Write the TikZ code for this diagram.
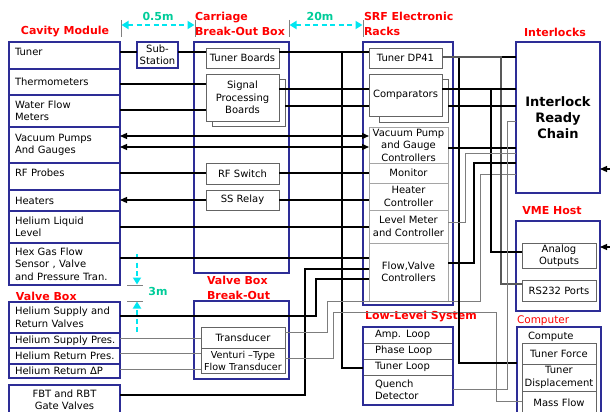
\documentclass[tikz,border=0pt]{standalone}
\usepackage{fontspec}
\setmainfont{DejaVu Sans}
\usetikzlibrary{arrows.meta}
\definecolor{navy}{RGB}{45,45,150}
\definecolor{lblred}{RGB}{255,0,0}
\definecolor{dimtxt}{RGB}{0,204,153}
\definecolor{dimcy}{RGB}{0,230,240}
\definecolor{wiregray}{RGB}{125,125,125}
\definecolor{boxgray}{RGB}{100,100,100}
\definecolor{lightbox}{RGB}{165,165,165}
\hyphenpenalty=10000
\exhyphenpenalty=10000
\begin{document}
\begin{tikzpicture}[x=1pt,y=-1pt,
 font=\fontsize{10}{12.5}\selectfont,
 every node/.style={outer sep=0pt},
 blk/.style={draw=navy, line width=2.2pt, anchor=north west, inner sep=0pt, fill=white},
 cav/.style={blk, minimum width=111pt, align=left, text width=99pt, inner xsep=6pt},
 grp/.style={draw=navy, line width=2.2pt, anchor=north west, inner sep=0pt},
 ibox/.style={draw=boxgray, line width=0.8pt, anchor=north west, inner sep=0pt, fill=white, align=center},
 lbox/.style={draw=lightbox, line width=0.8pt, anchor=north west, inner sep=0pt, fill=white, align=center, minimum width=79pt},
 llc/.style={draw=boxgray, line width=0.8pt, anchor=north west, minimum width=90pt, text width=66pt, inner xsep=12pt, inner ysep=0pt, align=left},
 ttl/.style={text=lblred, font=\fontsize{11}{15}\selectfont\bfseries, inner sep=0pt, align=left},
 dimlbl/.style={text=dimtxt, font=\fontsize{11}{13}\selectfont\bfseries, inner sep=0pt},
 dimarr/.style={dimcy, line width=1.8pt, dash pattern=on 5pt off 3.5pt},
 dtip/.tip={Triangle[length=7pt,width=8pt]},
 wtip/.tip={Triangle[length=7pt,width=6pt]},
 dimtick/.style={draw=gray, line width=0.6pt},
 wthick/.style={line width=1.9pt, black},
 wmed/.style={line width=1.2pt, black},
 wdark/.style={line width=1.2pt, black!65},
 wthin/.style={line width=0.9pt, wiregray},
]
\useasboundingbox (0,0) rectangle (610,412);

% ---------- group boxes ----------
\node[grp, minimum width=95pt, minimum height=231pt] (carr) at (194,42) {};
\node[grp, minimum width=90pt, minimum height=263pt] (srf) at (363,42) {};
\node[grp, minimum width=84pt, minimum height=90pt] (vme) at (516,221) {};
\node[grp, minimum width=84pt, minimum height=90pt] (cmp) at (517,327) {};
\node[grp, minimum width=95pt, minimum height=78pt] (vbb) at (194,301) {};

% ---------- cavity module ----------
\node[cav, minimum height=27pt, text depth=7pt] (cTuner) at (9,42) {Tuner};
\node[cav, minimum height=26pt] (cTherm) at (9,69) {Thermometers};
\node[cav, minimum height=32pt] (cWater) at (9,95) {\mbox{Water Flow}\\Meters};
\node[cav, minimum height=36pt] (cVac) at (9,127) {\mbox{Vacuum Pumps}\\\mbox{And Gauges}};
\node[cav, minimum height=27pt, text depth=7pt] (cRF) at (9,163) {\mbox{RF Probes}};
\node[cav, minimum height=21pt] (cHeat) at (9,190) {Heaters};
\node[cav, minimum height=32pt] (cLiq) at (9,211) {\mbox{Helium Liquid}\\Level};
\node[cav, minimum height=42pt] (cHex) at (9,243) {\mbox{Hex Gas Flow}\\\mbox{Sensor , Valve}\\\mbox{and Pressure Tran.}};

% ---------- valve box ----------
\node[cav, minimum height=31pt] (vValves) at (9,302) {\mbox{Helium Supply and}\\\mbox{Return Valves}};
\node[cav, minimum height=15pt] (vSup) at (9,333) {\mbox{Helium Supply Pres.}};
\node[cav, minimum height=16pt] (vRet) at (9,348) {\mbox{Helium Return Pres.}};
\node[cav, minimum height=14pt] (vDP) at (9,364) {\mbox{Helium Return ΔP}};
\node[blk, minimum width=111pt, minimum height=30pt, align=center] (fbt) at (9,385) {FBT and RBT\\Gate Valves};

% ---------- sub-station / carriage ----------
\node[draw=navy, line width=1.4pt, anchor=north west, minimum width=41pt, minimum height=26pt, inner sep=0pt, align=center, fill=white] (sub) at (137,42) {Sub-\\Station};
\node[ibox, minimum width=73pt, minimum height=20pt] (tBoards) at (206,48) {Tuner Boards};
\node[ibox, minimum width=73pt, minimum height=47pt] (spShadow) at (212,79) {};
\node[ibox, minimum width=73pt, minimum height=47pt] (spBoards) at (206,74) {Signal\\Processing\\Boards};
\node[ibox, minimum width=73pt, minimum height=21pt] (rfSw) at (206,163) {RF Switch};
\node[ibox, minimum width=73pt, minimum height=20pt] (ssRelay) at (206,190) {SS Relay};

% ---------- SRF racks ----------
\node[ibox, minimum width=73pt, minimum height=20pt] (dp41) at (369,48) {Tuner DP41};
\node[ibox, minimum width=69pt, minimum height=43pt] (compShadow) at (379,79) {};
\node[ibox, minimum width=73pt, minimum height=42pt] (comp) at (369,74) {Comparators};
\node[lbox, minimum height=36pt] (vacCtl) at (369,127) {Vacuum Pump\\and Gauge\\Controllers};
\node[lbox, minimum height=20pt] (monitor) at (369,163) {Monitor};
\node[lbox, minimum height=27pt] (heaterCtl) at (369,183) {Heater\\Controller};
\node[lbox, minimum height=33pt] (levelCtl) at (369,210) {Level Meter\\and Controller};
\node[lbox, minimum height=58pt] (flowCtl) at (369,243) {Flow,Valve\\Controllers};

% ---------- interlocks / VME / computer ----------
\node[grp, minimum width=84pt, minimum height=151pt, font=\fontsize{13}{16}\selectfont\bfseries, align=center] (ilk) at (516,42) {Interlock\\Ready\\Chain};
\node[ibox, minimum width=74pt, minimum height=25pt] (analog) at (522,243) {Analog\\Outputs};
\node[ibox, minimum width=74pt, minimum height=21pt] (rs232) at (522,280) {RS232 Ports};
\node[anchor=west, inner sep=0pt] (cmpLbl) at (528,337) {Compute};
\node[ibox, minimum width=74pt, minimum height=21pt] (tForce) at (522,343) {Tuner Force};
\node[ibox, minimum width=74pt, minimum height=27pt] (tDisp) at (522,364) {Tuner\\Displacement};
\node[ibox, minimum width=74pt, minimum height=23pt] (mFlow) at (522,391) {Mass Flow};

% ---------- low-level system ----------
\node[llc, minimum height=16pt] (amp) at (363,327) {Amp. Loop};
\node[llc, minimum height=16pt] (phase) at (363,343) {Phase Loop};
\node[llc, minimum height=16pt] (tLoop) at (363,359) {Tuner Loop};
\node[llc, minimum height=30pt] (quench) at (363,375) {Quench\\Detector};
\node[grp, minimum width=90pt, minimum height=78pt] (llrf) at (363,327) {};

% ---------- valve box break-out ----------
\node[ibox, minimum width=84pt, minimum height=21pt] (transducer) at (201,327) {Transducer};
\node[ibox, minimum width=84pt, minimum height=25pt, font=\fontsize{9.6}{12}\selectfont] (venturi) at (201,348) {Venturi –Type\\Flow Transducer};

% ---------- titles ----------
\node[ttl] (tCav) at (65,32) {Cavity Module};
\node[ttl, anchor=west] (tCarr) at (195,23.5) {Carriage\\Break-Out Box};
\node[ttl, anchor=west] (tSrf) at (364,23.5) {SRF Electronic\\Racks};
\node[ttl] (tIlk) at (555,32) {Interlocks};
\node[ttl] (tVme) at (552,211) {VME Host};
\node[ttl, anchor=west] (tLl) at (365,317) {Low-Level System};
\node[ttl, anchor=west, font=\fontsize{10.5}{12}\selectfont] (tCmp) at (517,321) {Computer};
\node[ttl, anchor=west] (tVb) at (16,296) {Valve Box};
\node[ttl, anchor=west] (tVbb) at (207,287.5) {Valve Box\\Break-Out};

% ---------- dimensions ----------
\node[dimlbl] (d05) at (158,16) {0.5m};
\node[dimlbl] (d20) at (320,16) {20m};
\node[dimlbl] (d3) at (158,291) {3m};
\draw[dimtick] (121,20) -- (121,37);
\draw[dimtick] (195,20) -- (195,37);
\draw[dimtick] (289,20) -- (289,37);
\draw[dimtick] (363,20) -- (363,37);
\draw[dimarr, {dtip}-{dtip}] (121.5,25) -- (194.5,25);
\draw[dimarr, {dtip}-{dtip}] (289.5,25) -- (362.5,25);
\draw[dimtick] (127,285) -- (143,285);
\draw[dimtick] (127,301) -- (143,301);
\draw[dimarr, -{dtip}] (137,254) -- (137,284.5);
\draw[dimarr, -{dtip}] (137,332) -- (137,301.5);

% ---------- wires ----------
\draw[wmed] (cTuner.east |- 0,52) -- (sub.west |- 0,52);
\draw[wmed] (sub.east |- 0,52) -- (tBoards.west |- 0,52);
\draw[wmed] (tBoards.east |- 0,52) -- (dp41.west |- 0,52);
\draw[wmed] (tBoards.east |- 0,52) -- (342,52) -- (342,368) -- (tLoop.west |- 0,368);
\draw[wthick] (cTherm.east |- 0,84) -- (spBoards.west |- 0,84);
\draw[wthick] (cWater.east |- 0,110) -- (spBoards.west |- 0,110);
\draw[wthick] (spBoards.east |- 0,89) -- (comp.west |- 0,89);
\draw[wthick] (spShadow.east |- 0,106) -- (comp.west |- 0,106);
\draw[wmed, {wtip}-{wtip}] (cVac.east |- 0,136) -- (vacCtl.west |- 0,136);
\draw[wmed, {wtip}-{wtip}] (cVac.east |- 0,147) -- (vacCtl.west |- 0,147);
\draw[wmed] (cRF.east |- 0,173) -- (rfSw.west |- 0,173);
\draw[wmed] (rfSw.east |- 0,173) -- (monitor.west |- 0,173);
\draw[wmed, -{wtip}] (ssRelay.west |- 0,200) -- (cHeat.east |- 0,200);
\draw[wmed] (ssRelay.east |- 0,200) -- (heaterCtl.west |- 0,200);
\draw[wmed] (cLiq.east |- 0,227) -- (levelCtl.west |- 0,227);
\draw[wmed] (cHex.east |- 0,258) -- (flowCtl.west |- 0,258);
\draw[wmed] (vValves.east |- 0,316) -- (316,316) -- (316,279) -- (flowCtl.west |- 0,279);
\draw[wthick] (fbt.east |- 0,395) -- (305,395) -- (305,269) -- (flowCtl.west |- 0,269);
\draw[wthin] (vSup.east |- 0,338) -- (transducer.west |- 0,338);
\draw[wthin] (vRet.east |- 0,353) -- (venturi.west |- 0,353);
\draw[wthin] (vDP.east |- 0,369) -- (venturi.west |- 0,369);
\draw[wthin] (transducer.east |- 0,332) -- (327,332) -- (327,301) -- (480,301) -- (480,174) -- (ilk.west |- 0,174);
\draw[wthin] (venturi.east |- 0,358) -- (333,358) -- (333,312) -- (496,312) -- (496,401) -- (mFlow.west |- 0,401);
\draw[wthick] (dp41.east |- 0,57) -- (ilk.west |- 0,57);
\draw[wthick] (dp41.east |- 0,57) -- (459,57) -- (459,363) -- (cmp.west |- 0,363);
\draw[wdark] (dp41.east |- 0,57) -- (501,57) -- (501,284) -- (rs232.west |- 0,284);
\draw[wthick] (comp.east |- 0,89) -- (ilk.west |- 0,89);
\draw[wthick] (comp.east |- 0,89) -- (491,89) -- (491,252) -- (analog.west |- 0,252);
\draw[wthick] (compShadow.east |- 0,106) -- (ilk.west |- 0,106);
\draw[wthick] (vacCtl.east |- 0,148) -- (ilk.west |- 0,148);
\draw[wthin] (levelCtl.east |- 0,222) -- (465,222) -- (465,153) -- (ilk.west |- 0,153);
\draw[wthick] (flowCtl.east |- 0,263) -- (474,263) -- (474,163) -- (ilk.west |- 0,163);
\draw[wthin] (quench.east |- 0,389) -- (507,389) -- (507,121) -- (ilk.west |- 0,121);
\coordinate (ilkIn) at (610,169);
\draw[wmed, -{wtip}] (ilkIn) -- (ilk.east |- ilkIn);
\coordinate (vmeIn) at (610,247);
\draw[wmed, -{wtip}] (vmeIn) -- (vme.east |- vmeIn);
\end{tikzpicture}
\end{document}
